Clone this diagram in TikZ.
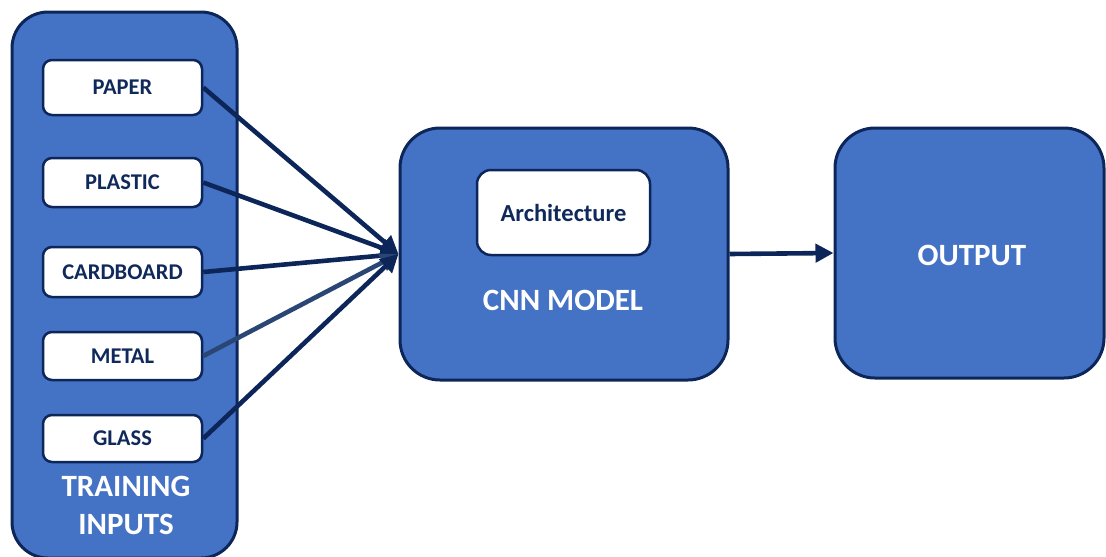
\documentclass[tikz,border=0pt]{standalone}
\usepackage{fontspec}
\setmainfont{Carlito}
\usetikzlibrary{arrows.meta}
\definecolor{cfill}{HTML}{4472C4}
\definecolor{cline}{HTML}{0D2659}
\definecolor{ctext}{HTML}{10295B}
\definecolor{cmetal}{HTML}{2A4674}
\begin{document}
\begin{tikzpicture}[x=1pt,y=-1pt,
  bigbox/.style={draw=cline,fill=cfill,line width=3pt,rounded corners=36pt,inner sep=0pt},
  itembox/.style={draw=cline,fill=white,line width=2.5pt,rounded corners=9pt,minimum width=159pt,minimum height=50pt,inner sep=0pt,text=ctext,font=\fontsize{22.5}{26}\selectfont\bfseries},
  wlabel/.style={text=white,font=\fontsize{31}{38}\selectfont\bfseries,align=center,inner sep=0pt},
  conn/.style={draw=cline,line width=4.6pt,-{Triangle[length=18pt,width=18pt]}}]
\useasboundingbox (0,0) rectangle (1106,557);
% containers
\node[bigbox,minimum width=225pt,minimum height=546pt] (cont) at (124.5,285) {};
\node[bigbox,minimum width=328pt,minimum height=252pt,rounded corners=40pt] (cnn) at (564,254) {};
\node[bigbox,minimum width=269pt,minimum height=250pt,rounded corners=40pt] (out) at (969.5,253) {};
% items
\node[itembox,minimum height=55pt] (paper) at (122.5,87.5) {PAPER};
\node[itembox,minimum height=49pt] (plastic) at (122.5,182.5) {PLASTIC};
\node[itembox] (cardboard) at (122.5,272) {CARDBOARD};
\node[itembox,minimum height=48pt] (metal) at (122.5,356) {METAL};
\node[itembox,minimum height=47pt] (glass) at (122.5,438.5) {GLASS};
\node[wlabel] (train) at (126,505) {TRAINING\\INPUTS};
% cnn content
\node[itembox,minimum width=173pt,minimum height=85pt,rounded corners=14pt,font=\fontsize{24.5}{28}\selectfont\bfseries] (arch) at (563.5,212.5) {Architecture};
\node[wlabel] (cnnlab) at (563,300) {CNN MODEL};
\node[wlabel] (outlab) at (972,255) {OUTPUT};
% connectors
\draw[conn] (paper.east) -- (cnn.west);
\draw[conn] (plastic.east) -- (cnn.west);
\draw[conn] (cardboard.east) -- (cnn.west);
\draw[conn,draw=cmetal] (metal.east) -- (cnn.west);
\draw[conn] (glass.east) -- (cnn.west);
\draw[conn] (cnn.east) -- (out.west);
\end{tikzpicture}
\end{document}
